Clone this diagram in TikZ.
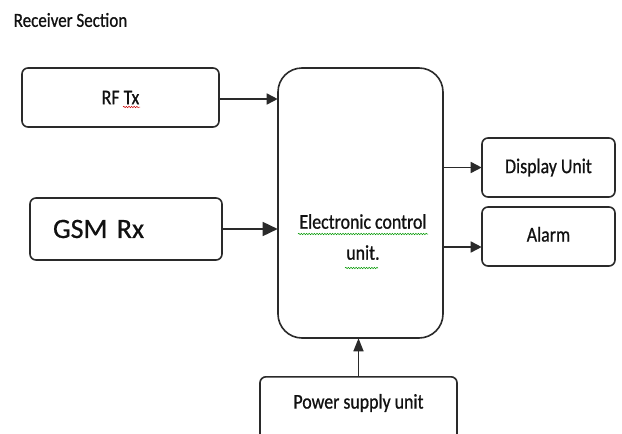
\documentclass[tikz,border=0pt]{standalone}
\usepackage{fontspec}
\setmainfont{Carlito}
\newfontfamily\condfont[FakeStretch=0.85,FakeBold=0.8]{Carlito}
\newfontfamily\widefont[FakeBold=0.6]{Carlito}
\usetikzlibrary{arrows.meta,calc,decorations.pathmorphing}
\definecolor{boxline}{HTML}{2A2A2A}
\definecolor{txt}{HTML}{111111}
\begin{document}
\begin{tikzpicture}[x=1pt,y=-1pt,
  blk/.style={draw=boxline,line width=1.6pt,rounded corners=6pt,minimum width=#1,inner sep=0pt,
    font=\condfont\fontsize{21}{31}\selectfont,text=txt,align=center},
  lbl/.style={font=\condfont\fontsize{21}{31}\selectfont,text=txt,align=center,inner sep=0pt},
  arr/.style={line width=1.6pt,draw=boxline,-{Triangle[length=11pt,width=11pt]},shorten >=-0.5pt},
  bigarr/.style={arr,-{Triangle[length=15pt,width=14pt]}},
  squig/.style={decorate,decoration={snake,amplitude=0.7pt,segment length=2.6pt},line width=0.5pt}]
\useasboundingbox (0,0) rectangle (622,434);
\clip (0,0) rectangle (622,434);
\fill[white] (0,0) rectangle (622,434);
\node[lbl,font=\condfont\fontsize{20}{24}\selectfont] (title) at (70.5,20) {Receiver Section};
\node[blk=197pt,minimum height=59pt] (rf) at (120.5,97.5) {RF Tx};
\node[blk=192pt,minimum height=62pt,inner xsep=23pt,text width=146pt,align=left,
      font=\widefont\fontsize{28}{32}\selectfont] (gsm) at (126,229) {GSM Rx};
\node[blk=165pt,minimum height=270pt,rounded corners=24pt] (ecu) at (360.5,203) {};
\node[lbl] (ecutext) at (363,237) {Electronic control\\unit.};
\node[blk=133pt,minimum height=59pt] (disp) at (548.5,167.5) {Display Unit};
\node[blk=133pt,minimum height=59pt] (alarm) at (548.5,236.5) {\raisebox{4.5pt}{Alarm}};
\node[blk=197pt,minimum height=66pt,anchor=north] (psu) at (358.5,376) {};
\node[lbl] (psutext) at (358.5,403) {Power supply unit};
\draw[arr] (rf.east) ++(0,1.5) coordinate (rfo) -- (rfo -| ecu.west);
\draw[bigarr] (gsm.east) -- (gsm.east -| ecu.west);
\draw[arr] (disp.west -| ecu.east) -- (disp.west);
\coordinate (alin) at ($(alarm.west)+(0,10.5)$);
\draw[arr] (alin -| ecu.east) -- (alin);
\draw[arr,-{Triangle[length=13pt,width=10pt]}] (psu.north) -- (psu.north |- ecu.south);
\draw[squig,red!80!black] (123,107) -- (140,107);
\draw[squig,green!60!black] (298,234) -- (428,234);
\draw[squig,green!60!black] (345,268) -- (378,268);
\end{tikzpicture}
\end{document}
